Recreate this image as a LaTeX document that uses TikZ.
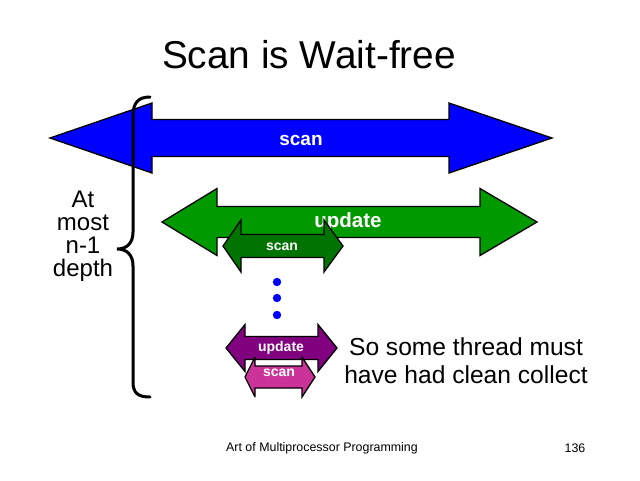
\documentclass[tikz,border=0pt]{standalone}
\usepackage{fontspec}
\setmainfont{Liberation Sans}
\definecolor{arrblue}{RGB}{0,0,255}
\definecolor{arrgreen}{RGB}{0,153,0}
\definecolor{arrdkgreen}{RGB}{0,115,0}
\definecolor{arrpurple}{RGB}{128,0,128}
\definecolor{arrpink}{RGB}{204,51,153}
\newcommand\dblarr[8]{%
  \filldraw[fill=#1, draw=black, line width=1.3pt, miter limit=4]
    (#2,#6) -- (#3,#6-#7) -- (#3,#6-#8) -- (#4,#6-#8) -- (#4,#6-#7) -- (#5,#6)
    -- (#4,#6+#7) -- (#4,#6+#8) -- (#3,#6+#8) -- (#3,#6+#7) -- cycle;}
\tikzset{
  arrlabel/.style={text=white, font=\bfseries\fontsize{#1}{#1}\selectfont, inner sep=0pt},
  plain/.style={text=black, font=\fontsize{#1}{#1}\selectfont, inner sep=0pt}
}
\begin{document}
\begin{tikzpicture}[x=1pt,y=-1pt]
\useasboundingbox[fill=white] (0,0) rectangle (640,480);
% title
\node[plain=38.8] (title) at (309,55) {Scan is Wait-free};
% arrows
\dblarr{arrblue}{50}{152}{449}{552}{138}{35}{18.5}
\node[arrlabel=19] (scanA) at (301,140) {scan};
\dblarr{arrgreen}{162}{217}{480}{537}{222}{33.5}{15.5}
\node[arrlabel=20.5] (updA) at (348,222) {update};
\dblarr{arrdkgreen}{223}{241}{324}{343}{246}{26}{11.5}
\node[arrlabel=14] (scanB) at (282,247) {scan};
% dots
\fill[arrblue] (277,282) circle (4.2) (277,298) circle (4.2) (277,315) circle (4.2);
\dblarr{arrpurple}{226}{245}{318}{337}{348}{23.5}{11.5}
\node[arrlabel=14] (updB) at (281,348) {update};
\dblarr{arrpink}{245}{255}{302}{315}{377}{20}{11}
\node[arrlabel=14] (scanC) at (279,373) {scan};
% brace
\draw[line width=3pt, line cap=round]
  (150,97) .. controls (138,97) and (133,103) .. (133,116) -- (133,232)
  .. controls (133,243) and (127,249) .. (117,249)
  .. controls (127,249) and (133,255) .. (133,266) -- (133,382)
  .. controls (133,393) and (138,397) .. (150,397);
% side texts
\node[plain=24, align=center, font=\fontsize{24}{23}\selectfont] (depth) at (83,236) {At\\most\\n-1\\depth};
\node[plain=24, align=center, font=\fontsize{24.6}{28}\selectfont] (concl) at (466,361) {So some thread must\\have had clean collect};
% footer
\node[plain=12.4] (footer) at (322,448) {Art of Multiprocessor Programming};
\node[plain=12.4] (page) at (575,448) {136};
\end{tikzpicture}
\end{document}
